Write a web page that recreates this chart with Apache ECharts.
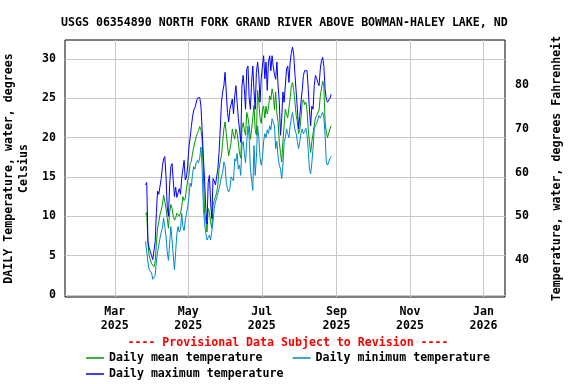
<!DOCTYPE html>
<html><head><meta charset="utf-8">
<script src="https://cdn.jsdelivr.net/npm/echarts@6/dist/echarts.min.js"></script>
<style>html,body{margin:0;padding:0;background:#fff}#c{width:576px;height:384px}</style>
</head><body><div id="c"></div>
<script>
// Daily series start date (Mar 26, 2025) — one value per day
const startYear = 2025, startMonth = 2, startDay = 26;

const maxTemp = [
14.0,14.3,6.8,6.0,5.5,5.0,4.5,4.3,6.8,10.5,
13.2,12.8,13.8,14.8,16.3,17.3,17.6,15.0,11.2,10.0,
14.0,16.3,16.7,14.5,12.5,13.7,12.4,13.0,13.5,12.8,
14.8,16.0,17.1,14.6,15.0,16.5,18.8,20.0,21.4,22.6,
23.5,23.8,24.4,25.0,25.2,25.1,23.9,20.9,17.5,14.6,
11.0,9.0,14.3,15.2,11.8,9.7,14.8,14.5,14.0,15.0,
16.0,18.1,21.1,24.5,25.8,26.6,28.3,25.8,23.2,22.0,
23.6,23.6,24.9,23.0,25.3,26.6,24.5,22.4,21.0,19.4,
26.6,27.9,26.2,23.6,28.7,29.1,25.0,23.6,27.0,29.1,
26.0,23.6,28.3,29.6,28.0,24.5,27.5,29.1,30.4,27.5,
29.6,26.0,29.6,30.4,28.5,30.4,29.0,28.0,27.4,29.6,
26.5,24.5,20.3,22.4,25.8,24.5,26.6,28.7,29.1,27.0,
29.6,30.8,31.5,30.5,28.0,25.8,23.6,21.1,22.8,24.5,
26.0,27.9,28.5,28.3,28.5,26.2,23.6,21.5,24.0,23.6,
26.6,27.9,27.5,27.0,26.6,28.7,29.8,30.2,29.0,26.2,
24.9,24.5,24.5,25.0,25.5
];
const meanTemp = [
10.2,10.5,6.5,5.0,4.5,4.0,3.8,3.6,4.2,6.5,
8.5,9.3,10.2,10.8,11.5,12.7,12.9,11.0,9.8,8.5,
10.5,11.5,11.0,10.0,9.5,9.8,10.4,10.2,10.0,10.4,
11.2,12.5,12.0,12.3,13.5,14.6,15.2,16.7,17.0,18.0,
18.8,19.0,20.1,20.5,20.9,21.4,21.0,19.6,15.5,10.4,
9.5,8.0,11.0,10.5,9.3,8.5,11.4,12.0,12.5,13.0,
14.0,16.0,17.0,17.7,19.4,21.1,22.0,20.5,19.0,17.7,
18.5,19.4,21.1,20.3,19.8,21.1,20.6,19.4,18.0,17.4,
21.1,21.9,21.0,20.3,23.2,22.5,21.5,19.8,21.0,21.0,
24.1,21.0,20.3,26.0,24.5,22.5,21.8,23.5,24.0,22.5,
24.0,23.0,23.8,25.3,24.8,26.2,25.5,23.5,25.8,23.0,
22.0,19.4,18.1,16.9,19.5,21.5,23.6,23.0,22.5,23.8,
25.0,26.6,27.0,26.0,24.5,22.8,22.0,20.5,21.0,22.5,
24.5,24.8,24.2,24.5,23.5,21.1,19.5,18.1,19.5,20.5,
21.5,22.5,22.8,22.8,23.5,25.3,26.2,27.2,26.5,22.0,
20.7,20.0,20.2,21.1,21.5
];
const minTemp = [
6.8,7.0,4.2,3.2,3.0,2.8,2.0,1.9,2.5,4.2,
5.5,6.3,7.2,8.0,8.5,9.8,9.9,7.5,5.5,4.4,
6.5,8.7,7.0,5.0,3.2,5.5,7.8,8.7,8.0,8.3,
10.4,8.7,8.2,9.5,10.4,11.2,12.5,14.2,13.8,15.4,
16.3,16.0,16.8,17.1,16.8,17.5,18.8,16.0,11.0,9.1,
7.8,7.0,7.3,7.6,7.0,7.0,9.3,11.0,11.8,12.3,
12.9,13.5,14.2,15.0,15.6,16.9,16.5,14.3,13.5,13.1,
13.5,15.0,15.2,14.5,17.3,17.0,18.0,16.0,16.5,15.2,
19.0,19.5,18.0,16.8,19.5,21.5,20.0,16.0,16.0,13.3,
19.0,15.2,17.5,21.5,20.0,17.5,16.5,17.5,19.5,20.5,
20.0,21.0,20.5,21.5,21.0,22.4,22.6,21.5,18.6,19.5,
17.5,16.5,16.0,14.8,16.5,19.4,20.0,21.1,20.5,20.0,
21.5,22.5,23.2,22.0,21.0,20.5,19.5,18.6,19.5,20.5,
21.1,20.5,20.8,21.2,20.3,18.5,16.0,15.4,16.8,18.6,
21.1,21.5,21.8,22.0,22.8,22.5,22.8,23.2,22.5,20.3,
16.9,16.5,16.5,17.3,17.6
];

const xTickDates = [[2025,2,1],[2025,4,1],[2025,6,1],[2025,8,1],[2025,10,1],[2026,0,1]];
const monthNames = ['Jan','Feb','Mar','Apr','May','Jun','Jul','Aug','Sep','Oct','Nov','Dec'];
const yTicksC = [0,5,10,15,20,25,30];
const yTicksF = [40,50,60,70,80];

const yMinC = -0.25, yMaxC = 32.4;
const xMin = new Date(2025,0,18,16).getTime();
const xMax = new Date(2026,0,18,19).getTime();

function dayTime(i){ return new Date(startYear, startMonth, startDay + i, 12).getTime(); }
function pairs(arr){ return arr.map((v,i)=>[dayTime(i), v]); }
const xTicks = xTickDates.map(d=>new Date(d[0],d[1],d[2]).getTime());

const FONT = 'DejaVu Sans Mono';
const FS = 11.6;
const txt = {fontFamily: FONT, fontWeight: 'bold', fontSize: FS, color: '#000'};

const chart = echarts.init(document.getElementById('c'), null, {renderer:'canvas'});
chart.setOption({
  animation: false,
  backgroundColor: '#fff',
  title: {
    text: 'USGS 06354890 NORTH FORK GRAND RIVER ABOVE BOWMAN-HALEY LAKE, ND',
    left: 56, top: 12,
    textStyle: Object.assign({}, txt)
  },
  grid: {left: 65, right: 71, top: 40, bottom: 87, show: true, borderColor: '#000', borderWidth: 1, backgroundColor: 'transparent', containLabel: false, outerBoundsMode: 'none'},
  legend: [
    {data: ['Daily mean temperature', 'Daily minimum temperature'], left: 81, top: 347, itemWidth: 18, itemHeight: 10, itemGap: 30, textStyle: Object.assign({}, txt), icon: 'path://M0,4 L18,4 L18,5.5 L0,5.5 Z'},
    {data: ['Daily maximum temperature'], left: 81, top: 363, itemWidth: 18, itemHeight: 10, textStyle: Object.assign({}, txt), icon: 'path://M0,4 L18,4 L18,5.5 L0,5.5 Z'}
  ],
  graphic: [{
    type: 'text', left: 'center', top: 337,
    style: {text: '---- Provisional Data Subject to Revision ----', fill: '#ff0000', font: 'bold ' + FS + 'px "DejaVu Sans Mono"'}
  }],
  xAxis: {
    type: 'value', min: xMin, max: xMax,
    axisLine: {show: false},
    axisTick: {show: false, customValues: xTicks},
    splitLine: {show: true, lineStyle: {color: '#c8c8c8', width: 1}},
    axisLabel: {
      customValues: xTicks, margin: 8, lineHeight: 14,
      fontFamily: FONT, fontWeight: 'bold', fontSize: FS, color: '#000',
      formatter: v => { const d = new Date(v); return monthNames[d.getMonth()] + '\n' + d.getFullYear(); }
    }
  },
  yAxis: [{
    type: 'value', min: yMinC, max: yMaxC, position: 'left',
    name: 'DAILY Temperature, water, degrees\nCelsius',
    nameLocation: 'middle', nameGap: 25,
    nameTextStyle: Object.assign({lineHeight: 15, align: 'center'}, txt),
    axisLine: {show: false},
    axisTick: {show: false, customValues: yTicksC},
    splitLine: {show: true, lineStyle: {color: '#c8c8c8', width: 1}},
    axisLabel: Object.assign({customValues: yTicksC, margin: 9}, txt)
  }, {
    type: 'value', min: yMinC*1.8+32, max: yMaxC*1.8+32, position: 'right',
    name: 'Temperature, water, degrees Fahrenheit',
    nameLocation: 'middle', nameGap: 46,
    nameTextStyle: Object.assign({}, txt),
    axisLine: {show: false},
    axisTick: {show: false, customValues: yTicksF},
    splitLine: {show: false},
    axisLabel: Object.assign({customValues: yTicksF, margin: 10}, txt)
  }],
  series: [
    {name: 'Daily mean temperature', type: 'line', data: pairs(meanTemp), symbol: 'none', lineStyle: {color: '#009900', width: 1}, itemStyle: {color: '#009900'}, z: 3},
    {name: 'Daily minimum temperature', type: 'line', data: pairs(minTemp), symbol: 'none', lineStyle: {color: '#0088cc', width: 1}, itemStyle: {color: '#0088cc'}, z: 4},
    {name: 'Daily maximum temperature', type: 'line', data: pairs(maxTemp), symbol: 'none', lineStyle: {color: '#0000ff', width: 1}, itemStyle: {color: '#0000ff'}, z: 5}
  ]
});
</script></body></html>
